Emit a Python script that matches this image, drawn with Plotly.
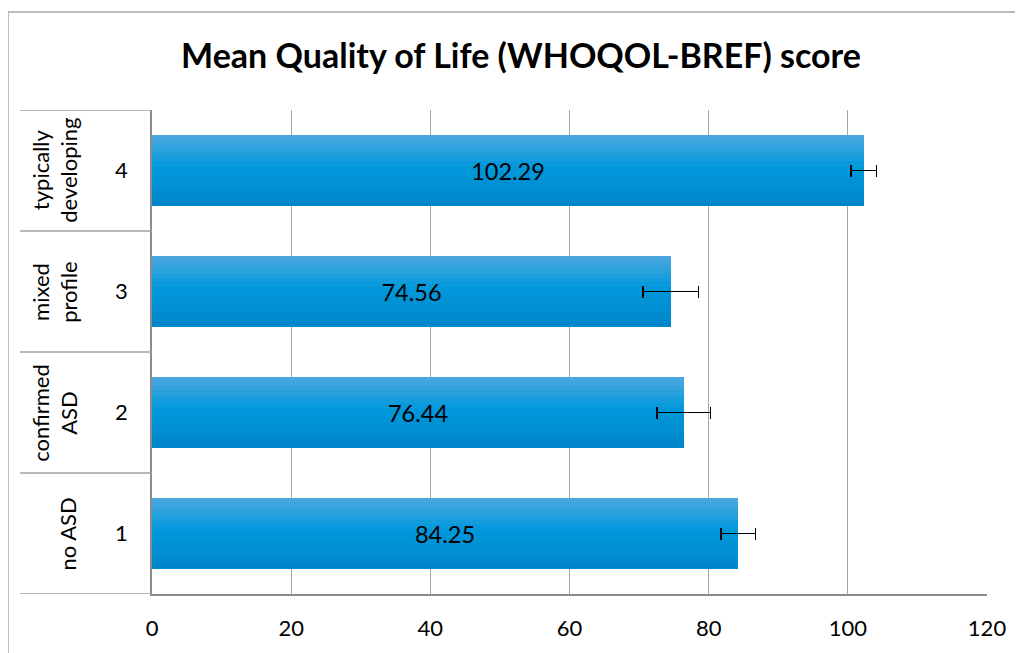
import plotly.graph_objects as go

# ---- data ----
codes = ["1", "2", "3", "4"]
groups = ["no ASD", "confirmed<br>ASD", "mixed<br>profile", "typically<br>developing"]
means = [84.25, 76.44, 74.56, 102.29]
errors = [2.5, 3.85, 4.0, 1.85]
x_ticks = [0, 20, 40, 60, 80, 100, 120]
title = "Mean Quality of Life (WHOQOL-BREF) score"

FONT = "Lato"
BAR_W = 0.58
N_BANDS = 16
W, H = 1015, 645  # page body adds an 8px margin

def lerp(a, b, t):
    return tuple(round(a[i] + (b[i] - a[i]) * t) for i in range(3))

top_c, mid_c, bot_c = (80, 168, 222), (0, 153, 220), (0, 134, 202)

def grad(t):  # t=0 top, 1 bottom
    if t < 0.45:
        return lerp(top_c, mid_c, t / 0.45)
    return lerp(mid_c, bot_c, (t - 0.45) / 0.55)

fig = go.Figure()
band_h = BAR_W / N_BANDS
for i in range(N_BANDS):
    t = (i + 0.5) / N_BANDS
    c = grad(t)
    off = BAR_W / 2 - (i + 1) * band_h
    fig.add_trace(go.Bar(
        y=codes, x=means, orientation="h",
        width=band_h * 1.08, offset=off,
        marker=dict(color="rgb(%d,%d,%d)" % c, line=dict(width=0)),
        hoverinfo="skip", showlegend=False,
    ))

# labels + error bars
fig.add_trace(go.Bar(
    y=codes, x=means, orientation="h", width=BAR_W,
    marker=dict(color="rgba(0,0,0,0)", line=dict(width=0)),
    text=["%.2f" % v for v in means], textposition="inside",
    insidetextanchor="middle", constraintext="none", textangle=0,
    insidetextfont=dict(family=FONT, size=23.5, color="black"),
    error_x=dict(type="data", array=errors, color="black", thickness=1.6, width=6),
    showlegend=False,
))

shapes = []
# chart border
shapes.append(dict(type="rect", xref="paper", yref="paper",
                   x0=-0.1725, x1=1.1, y0=-0.2, y1=1.2025,
                   line=dict(color="#a6a6a6", width=1.5), layer="below"))
# category dividers in label area
n = len(codes)
for k in range(n + 1):
    yv = k - 0.5
    shapes.append(dict(type="line", xref="paper", yref="y",
                       x0=-0.158, x1=0, y0=yv, y1=yv,
                       line=dict(color="#a0a0a0", width=1.3)))

annotations = []
for idx, g in enumerate(groups):
    xpos = -0.117 if "<br>" in g else -0.1006
    annotations.append(dict(text=g, x=xpos, xref="paper", y=idx, yref="y",
                             textangle=-90, showarrow=False, xanchor="center",
                             yanchor="middle",
                             font=dict(family=FONT, size=22, color="black")))

fig.update_layout(
    width=W, height=H,
    margin=dict(l=144, r=36, t=102, b=59, autoexpand=False),
    paper_bgcolor="white", plot_bgcolor="white",
    barmode="overlay", bargap=0,
    title=dict(text="<b>" + title + "</b>", x=(521 - 8) / W, xref="container",
               xanchor="center", y=1 - 48 / H, yref="container", yanchor="middle",
               font=dict(family=FONT, size=34, color="black")),
    font=dict(family=FONT, size=22, color="black"),
    xaxis=dict(range=[0, 120], tickvals=x_ticks, showgrid=True,
               gridcolor="#a6a6a6", gridwidth=1.3, zeroline=False,
               showline=True, linecolor="#8c8c8c", linewidth=1.5,
               ticks="", ticklabelstandoff=14, automargin=False,
               tickfont=dict(family=FONT, size=22, color="black")),
    yaxis=dict(type="category", categoryorder="array", categoryarray=codes,
               range=[-0.5, n - 0.5], showgrid=False, zeroline=False,
               showline=True, linecolor="#8c8c8c", linewidth=1.5,
               ticks="", ticklabelstandoff=18, automargin=False,
               tickfont=dict(family=FONT, size=22, color="black")),
    shapes=shapes, annotations=annotations,
)

fig.write_html("out.html")
